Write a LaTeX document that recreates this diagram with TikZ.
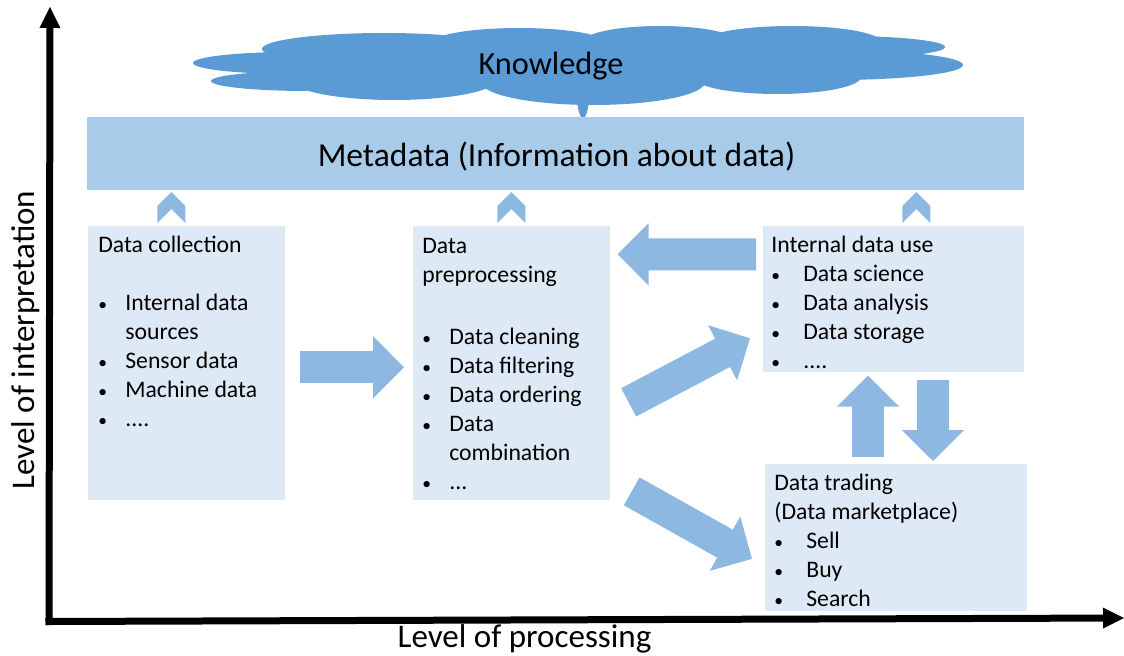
\documentclass[tikz,border=0pt]{standalone}
\usepackage{fontspec}
\setmainfont{Carlito}
\usepackage{xcolor}
\usetikzlibrary{arrows.meta,calc,positioning}
\definecolor{cloudblue}{HTML}{5B9BD5}
\definecolor{metablue}{HTML}{A9CBEA}
\definecolor{boxblue}{HTML}{DEE9F6}
\definecolor{arrowblue}{HTML}{8DB8E2}
\newcommand{\itm}[1]{\makebox[0.54cm][l]{\fontsize{10}{10}\selectfont\textbullet}#1}
\tikzset{
	stagebox/.style={fill=boxblue,anchor=north west,inner sep=0pt},
	stagetext/.style={anchor=north west,align=left,inner sep=0pt,font=\fontsize{13.5}{16.5}\selectfont},
	blockarrow/.style={draw=arrowblue,line width=0.64cm,-{Triangle[length=0.62cm,width=1.24cm,fill=arrowblue,line width=1pt]}},
	axisline/.style={black,line width=0.14cm,-{Triangle[length=0.42cm,width=0.42cm,line width=0pt]}},
	bigtext/.style={font=\fontsize{18.8}{22}\selectfont},
}
\begin{document}
\begin{tikzpicture}[x=0.02cm,y=-0.02cm]
\useasboundingbox (0,0) rectangle (1124,655);
% cloud
\foreach \cx/\cy/\rx/\ry in {
	292/63/99/11, 308/81/97/10, 384/49/122/16, 519/43/87/15, 660/42/77/16, 792/42/89/16,
	843/47/102/11, 833/65/130/15, 777/77/84/17, 593/82/112/23, 394/80/102/20, 578/60/300/20}{
	\fill[cloudblue] (\cx,\cy) ellipse ({\rx*0.02cm} and {\ry*0.02cm});
}
\fill[cloudblue] (577,100) -- (578,108) .. controls (579,114) and (581,118) .. (583,118) .. controls (585,118) and (587,114) .. (588,108) -- (589,100) -- cycle;
\node[font=\fontsize{18.4}{22}\selectfont] (knowledge) at (551,66) {Knowledge};
% metadata
\node[fill=metablue,anchor=north west,inner sep=0pt,minimum width=18.74cm,minimum height=1.46cm] (meta) at (87,117) {};
\node[font=\fontsize{19.1}{22}\selectfont] (metatext) at (556.5,157) {Metadata (Information about data)};
% boxes
\node[stagebox,minimum width=3.94cm,minimum height=5.48cm] (collect) at (88,226) {};
\node[stagebox,minimum width=3.94cm,minimum height=5.48cm] (prep) at (413,226) {};
\node[stagebox,minimum width=5.22cm,minimum height=2.92cm] (internal) at (763,226) {};
\node[stagebox,minimum width=5.24cm,minimum height=2.94cm] (trading) at (765,464) {};
\node[stagetext] (collecttext) at (98,235.5) {Data collection\\[16.5pt]
	\itm{Internal data}\\ \hspace{0.54cm}sources\\ \itm{Sensor data}\\ \itm{Machine data}\\ \itm{....}};
\node[stagetext] (preptext) at (422,237.5) {Data\\ preprocessing\\[18.8pt]
	\itm{Data cleaning}\\ \itm{Data filtering}\\ \itm{Data ordering}\\ \itm{Data}\\ \hspace{0.54cm}combination\\ \itm{...}};
\node[stagetext] (internaltext) at (771,235.5) {Internal data use\\
	\itm{\hspace{0.1cm}Data science}\\ \itm{\hspace{0.1cm}Data analysis}\\ \itm{\hspace{0.1cm}Data storage}\\ \itm{\hspace{0.1cm}....}};
\node[stagetext] (tradingtext) at (774,473.5) {Data trading\\ (Data marketplace)\\
	\itm{\hspace{0.1cm}Sell}\\ \itm{\hspace{0.1cm}Buy}\\ \itm{\hspace{0.1cm}Search}};
% arrows
\draw[blockarrow] ($(collect.east)+(14,4)$) -- ($(prep.west)+(-9,4)$);
\draw[blockarrow] ($(internal.west)+(-7,-45)$) -- ($(prep.east)+(7,-109)$);
\draw[blockarrow] ($(prep.east)+(18,39)$) -- ($(internal.west)+(-13,39)$);
\draw[blockarrow] ($(prep.east)+(21,128)$) -- ($(trading.west)+(-13,21)$);
\draw[blockarrow] ($(trading.north west)+(103,-7)$) -- ($(internal.south west)+(105,3)$);
\draw[blockarrow] ($(internal.south west)+(170,7)$) -- ($(trading.north west)+(168,-3)$);
\foreach \n/\dx in {collect/-15.5,prep/-0.5,internal/22.5}{
	\fill[arrowblue] ($(\n.north)+(\dx,-34)$) -- ++(14,14) -- ++(0,17) -- ++(-14,-14) -- ++(-14,14) -- ++(0,-17) -- cycle;
}
% axes
\coordinate (ybase) at (49,625);
\coordinate (xbase) at (45.5,621.5);
\coordinate (ytop) at (50,7);
\coordinate (xend) at (1124,618);
\draw[axisline] (ybase) -- (ytop);
\draw[axisline] (xbase) -- (xend);
\node[bigtext] (xlabel) at (524.5,639) {Level of processing};
\node[rotate=90,bigtext] (ylabel) at (26,340) {Level of interpretation};
\end{tikzpicture}
\end{document}
